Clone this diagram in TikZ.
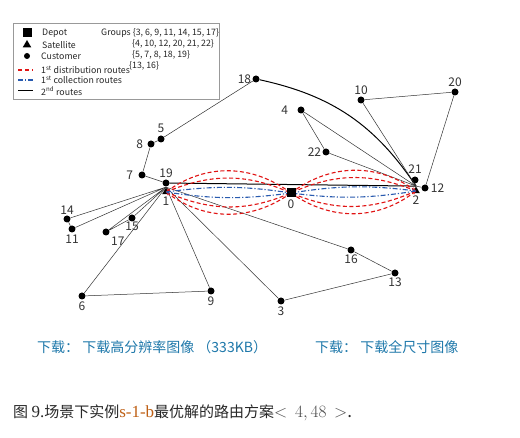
\documentclass[tikz,border=0pt]{standalone}
\usepackage{fontspec}
\setmainfont{Noto Sans CJK SC}
\newfontfamily\cjk{Noto Sans CJK SC}
\newfontfamily\serifl{Liberation Serif}
\usetikzlibrary{shapes.geometric,arrows.meta,positioning}
\definecolor{routered}{RGB}{225,20,20}
\definecolor{routeblue}{RGB}{40,90,175}
\definecolor{linkblue}{RGB}{30,120,170}
\definecolor{capgray}{RGB}{40,40,40}
\definecolor{sbcol}{RGB}{190,95,20}
\begin{document}
\begin{tikzpicture}[x=1pt,y=-1pt,
  dot/.style={circle,fill=black,inner sep=0pt,minimum size=7pt},
  lab/.style={font=\fontsize{12}{12}\selectfont,text=black!80,inner sep=1pt},
  sat/.style={regular polygon,regular polygon sides=3,fill=black,inner sep=0pt,minimum size=9pt},
  depot/.style={rectangle,fill=black,inner sep=0pt,minimum size=9pt},
  edge/.style={draw=black!80,line width=0.5pt},
  edge2/.style={draw=black,line width=1pt},
  red1/.style={draw=routered,dash pattern=on 4pt off 2.5pt,line width=1.1pt,-{Stealth[length=4pt,width=3.5pt]}},
  blue1/.style={draw=routeblue,dash pattern=on 5pt off 2pt on 1.2pt off 2pt,line width=1.1pt,-{Stealth[length=4pt,width=3.5pt]}},
  leg/.style={font=\fontsize{8.8}{8.8}\selectfont,text=black!85,inner sep=0pt,anchor=west}
]
\useasboundingbox (0,0) rectangle (520,438);
\fill[white] (0,0) rectangle (520,438);

% legend
\node[draw=black!40,line width=0.5pt,minimum width=206pt,minimum height=76pt,inner sep=0pt] (legbox) at (116,61) {};
\node[depot,minimum size=9pt] (lsq) at (27,33) {};
\node[sat,minimum size=10pt] (ltri) at (27,45) {};
\node[dot,minimum size=6pt] (ldot) at (27,56) {};
\coordinate (lr1) at (18,70); \coordinate (lr2) at (33,70);
\coordinate (lb1) at (18,80); \coordinate (lb2) at (33,80);
\coordinate (lk1) at (18,91); \coordinate (lk2) at (33,91);
\draw[draw=routered,dash pattern=on 4pt off 3pt,line width=1.1pt] (lr1) -- (lr2);
\draw[draw=routeblue,dash pattern=on 5pt off 2pt on 1.2pt off 2pt,line width=1.1pt] (lb1) -- (lb2);
\draw[draw=black,line width=1pt] (lk1) -- (lk2);
\node[leg] (tdep) at (42,33) {Depot};
\node[leg] (tsat) at (42,45) {Satellite};
\node[leg] (tcus) at (41,56) {Customer};
\node[leg] (tr) at (41,70) {1\textsuperscript{st} distribution routes};
\node[leg] (tb) at (41,80) {1\textsuperscript{st} collection routes};
\node[leg] (tk) at (41,91) {2\textsuperscript{nd} routes};
\node[leg] (g1) at (101,33) {Groups \{3, 6, 9, 11, 14, 15, 17\}};
\node[leg] (g2) at (132,44) {\{4, 10, 12, 20, 21, 22\}};
\node[leg] (g3) at (132,55) {\{5, 7, 8, 18, 19\}};
\node[leg] (g4) at (129,66) {\{13, 16\}};

% depot and satellites
\node[depot] (n0) at (291,193) {};
\node[sat] (n1) at (166,192) {};
\node[sat] (n2) at (416,191) {};
\node[lab,below=1pt of n0] (l0) {0};
\node[lab,below=1pt of n1] (l1) {1};
\node[lab,below=1pt of n2] (l2) {2};

% customers
\node[dot,label={[lab,label distance=0pt]above:19}] (n19) at (166,183) {};
\node[dot,label={[lab,label distance=4pt]left:7}] (n7) at (142,175) {};
\node[dot,label={[lab,label distance=3pt]left:8}] (n8) at (151,144) {};
\node[dot,label={[lab,label distance=1pt]above:5}] (n5) at (161,139) {};
\node[dot,label={[lab,label distance=0pt]left:18}] (n18) at (256,79) {};
\node[dot,label={[lab,label distance=8pt]left:4}] (n4) at (301,110) {};
\node[dot,label={[lab,label distance=0pt]left:22}] (n22) at (326,152) {};
\node[dot,label={[lab,label distance=0pt]above:10}] (n10) at (361,100) {};
\node[dot,label={[lab,label distance=0pt]above:20}] (n20) at (455,92) {};
\node[dot,label={[lab,label distance=2pt]above:21}] (n21) at (415,180) {};
\node[dot,label={[lab,label distance=1pt]right:12}] (n12) at (425,188) {};
\node[dot,label={[lab,label distance=0pt]above:14}] (n14) at (67,219) {};
\node[dot,label={[lab,label distance=1pt]below:11}] (n11) at (72,229) {};
\node[dot,label={[lab,label distance=-1pt]below:15}] (n15) at (132,218) {};
\node[dot,label={[lab,label distance=2pt]below right:17}] (n17) at (106,232) {};
\node[dot,label={[lab,label distance=1pt]below:6}] (n6) at (82,296) {};
\node[dot,label={[lab,label distance=1pt]below:9}] (n9) at (211,291) {};
\node[dot,label={[lab,label distance=0pt]below:16}] (n16) at (351,250) {};
\node[dot,label={[lab,label distance=0pt]below:13}] (n13) at (395,273) {};
\node[dot,label={[lab,label distance=1pt]below:3}] (n3) at (281,301) {};

% second-echelon routes from satellite 1
\draw[edge] (n1.north) -- (n14) -- (n11) -- (n1.north);
\draw[edge] (n1.north) -- (n15) -- (n17) -- (n1.north);
\draw[edge] (n1.north) -- (n6) -- (n9) -- (n1.north);
\draw[edge] (n1.north) -- (n16) -- (n13) -- (n3) -- (n1.north);
% second-echelon routes from satellite 2
\draw[edge2] (n2.north) -- (n19);
\draw[edge] (n19) -- (n7) -- (n8) -- (n5) -- (n18);
\draw[edge2] (n18) to[bend left=22] (n2.north);
\draw[edge] (n2.north) -- (n4) -- (n22) -- (n2.north);
\draw[edge] (n2.north) -- (n10) -- (n20) -- (n12) -- (n2.north);
\draw[edge] (n2.north) -- (n21);

% first-echelon routes
\draw[red1] (n0.center) to[bend right=36] (n1.center);
\draw[red1] (n1.center) to[bend left=23] (n0.center);
\draw[red1] (n0.center) to[bend left=36] (n1.center);
\draw[red1] (n1.center) to[bend right=23] (n0.center);
\draw[blue1] (n1.center) to[bend left=8] (n0.center);
\draw[blue1] (n0.center) to[bend left=8] (n1.center);
\draw[red1] (n0.center) to[bend left=36] (n2.center);
\draw[red1] (n2.center) to[bend right=23] (n0.center);
\draw[red1] (n0.center) to[bend right=36] (n2.center);
\draw[red1] (n2.center) to[bend left=23] (n0.center);
\draw[blue1] (n0.center) to[bend left=8] (n2.center);
\draw[blue1] (n2.center) to[bend left=8] (n0.center);
\node[depot] (n0b) at (n0) {};

% download links
\node[anchor=west,inner sep=0pt,text=linkblue,font=\cjk\fontsize{14}{14}\selectfont] (dl1) at (37,347) {下载： 下载高分辨率图像 （333KB）};
\node[anchor=west,inner sep=0pt,text=linkblue,font=\cjk\fontsize{14}{14}\selectfont] (dl2) at (315,347) {下载： 下载全尺寸图像};

% caption
\node[anchor=west,inner sep=0pt,text=capgray,font=\cjk\fontsize{15}{15}\selectfont] (cap) at (13,413) {图 {\serifl\fontsize{17}{17}\selectfont 9.}场景下实例{\serifl\fontsize{17}{17}\selectfont\color{sbcol}s-1-b}最优解的路由方案{\fontsize{17}{17}\selectfont$\color{black!70}<\,4,48\,>$.}};
\end{tikzpicture}
\end{document}
